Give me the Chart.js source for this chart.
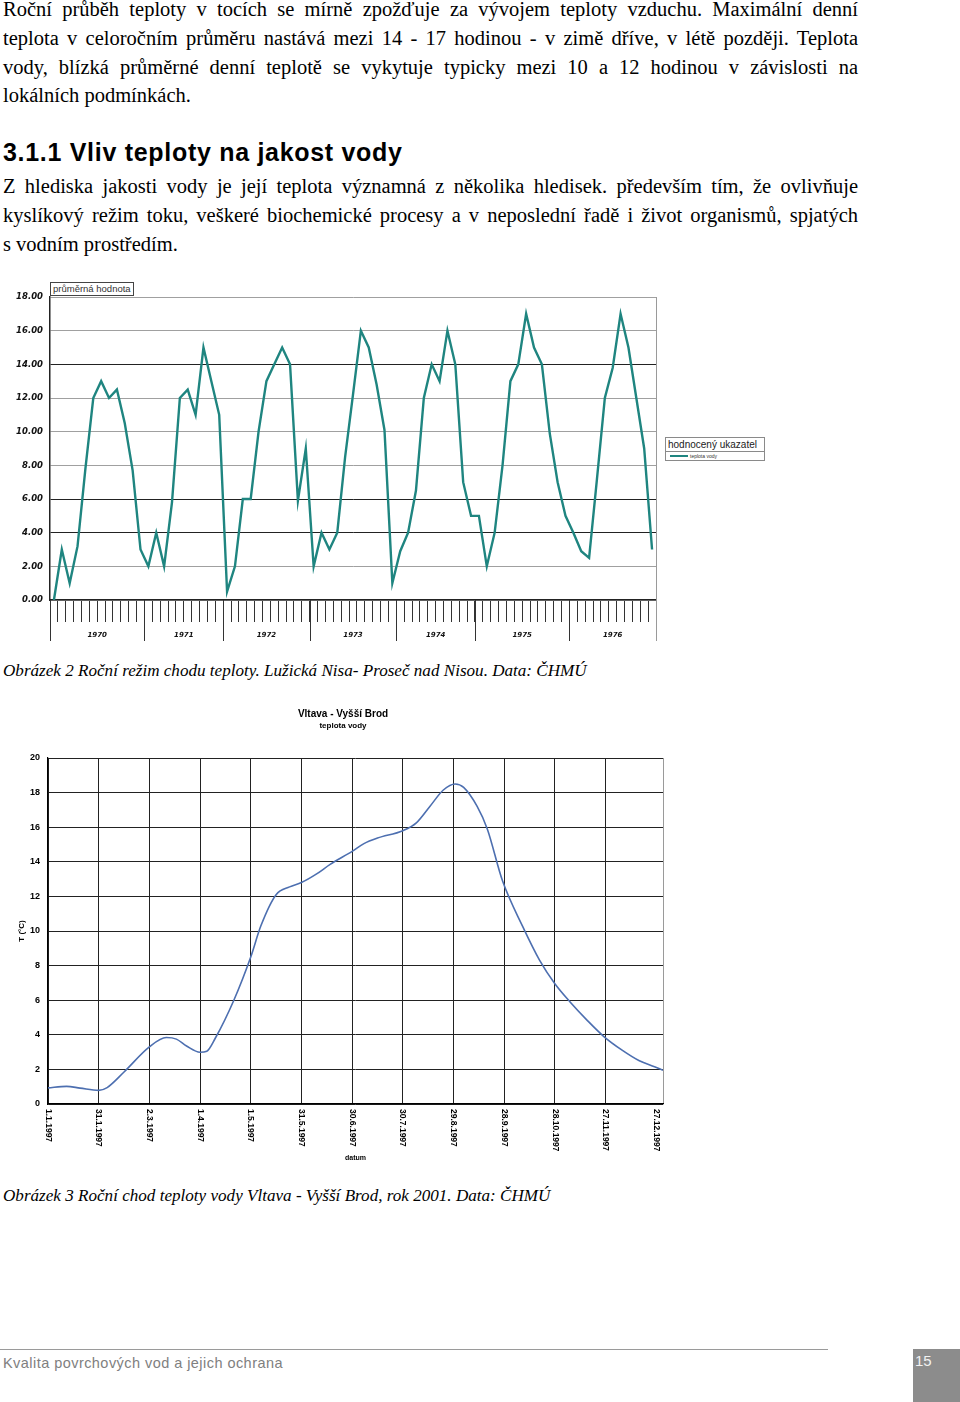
<!DOCTYPE html>
<html lang="cs">
<head>
<meta charset="utf-8">
<title>Teplota vody</title>
<script src="https://cdn.jsdelivr.net/npm/chart.js@4.4.1/dist/chart.umd.min.js"></script>
<style>
    html, body { margin: 0; padding: 0; background: #fff; }
    body { width: 960px; height: 1402px; position: relative; overflow: hidden; font-family: "Liberation Serif", serif; color: #000; }
    .txt { position: absolute; left: 3px; width: 855px; font-size: 20.5px; line-height: 28.8px; }
    .txt div { text-align: justify; text-align-last: justify; white-space: nowrap; }
    .txt div.last { text-align: left; text-align-last: left; }
    h3 { position: absolute; left: 3px; top: 137px; margin: 0; font: bold 25px/30px "Liberation Sans", sans-serif; letter-spacing: 0.7px; }
    .cap { position: absolute; left: 3px; font: italic 17.1px/20px "Liberation Serif", serif; }
    canvas { position: absolute; left: 0; }
    #avgBox { position: absolute; left: 50px; top: 282px; height: 12px; padding: 0 2px; border: 1px solid #444; font: 9.5px/12px "Liberation Sans", sans-serif; color: #333; background: #fff; }
    #legendBox { position: absolute; left: 665px; top: 437px; width: 98px; height: 22px; border: 1px solid #8a8a8a; background: #fff; font-family: "Liberation Sans", sans-serif; }
    #legendBox .head { height: 13px; border-bottom: 1px solid #8a8a8a; font-size: 10px; line-height: 13px; padding-left: 2px; color: #222; }
    #legendBox .row { position: relative; height: 8px; }
    #legSwatch { position: absolute; left: 4px; top: 3px; width: 18px; height: 2px; }
    #legName { position: absolute; left: 24px; top: 0; font-size: 5px; line-height: 8px; color: #333; }
    #footLine { position: absolute; left: 0; top: 1349px; width: 828px; height: 1px; background: #9a9a9a; }
    #footText { position: absolute; left: 3px; top: 1354px; font: 14.5px/18px "Liberation Sans", sans-serif; color: #808080; letter-spacing: 0.45px; }
    #pageNo { position: absolute; left: 913px; top: 1349px; width: 47px; height: 53px; background: #8c8c8c; color: #f2f2f2; font: 15px/18px "Liberation Sans", sans-serif; }
    #pageNo span { position: absolute; left: 2px; top: 3px; }
</style>
</head>
<body>

<div class="txt" style="top:-5px">
    <div>Roční průběh teploty v tocích se mírně zpožďuje za vývojem teploty vzduchu. Maximální denní</div>
    <div>teplota v celoročním průměru nastává mezi 14 - 17 hodinou - v zimě dříve, v létě později. Teplota</div>
    <div>vody, blízká průměrné denní teplotě se vykytuje typicky mezi 10 a 12 hodinou v závislosti na</div>
    <div class="last">lokálních podmínkách.</div>
</div>

<h3>3.1.1 Vliv teploty na jakost vody</h3>

<div class="txt" style="top:172px">
    <div>Z hlediska jakosti vody je její teplota významná z několika hledisek. především tím, že ovlivňuje</div>
    <div>kyslíkový režim toku, veškeré biochemické procesy a v neposlední řadě i život organismů, spjatých</div>
    <div class="last">s vodním prostředím.</div>
</div>

<canvas id="chart-nisa" width="770" height="367" style="top:278px"></canvas>
<div id="avgBox">průměrná hodnota</div>
<div id="legendBox">
    <div class="head">hodnocený ukazatel</div>
    <div class="row"><span id="legSwatch"></span><span id="legName"></span></div>
</div>

<div class="cap" style="top:661px">Obrázek 2 Roční režim chodu teploty. Lužická Nisa- Proseč nad Nisou. Data: ČHMÚ</div>

<canvas id="chart-vltava" width="686" height="465" style="top:700px"></canvas>

<div class="cap" style="top:1186px">Obrázek 3 Roční chod teploty vody Vltava - Vyšší Brod, rok 2001. Data: ČHMÚ</div>

<div id="footLine"></div>
<div id="footText">Kvalita povrchových vod a jejich ochrana</div>
<div id="pageNo"><span>15</span></div>

<script>
// --- Obrázek 2: Lužická Nisa - Proseč nad Nisou (measurements 1970-1976) ---
var years = ['1970', '1971', '1972', '1973', '1974', '1975', '1976'];
var samplesPerYear = [12, 10, 11, 11, 10, 12, 11];
var nisaTemp = [
    0.0, 3.0, 1.0, 3.2, 7.8, 12.0, 13.0, 12.0, 12.5, 10.5, 7.7, 3.0,
    2.0, 4.0, 2.0, 5.8, 12.0, 12.5, 11.0, 15.0, 13.0, 11.0,
    0.5, 2.0, 6.0, 6.0, 10.0, 13.0, 14.0, 15.0, 14.0, 5.9, 9.0,
    2.0, 4.0, 3.0, 4.0, 8.5, 12.2, 16.0, 15.0, 12.8, 10.1, 1.0,
    2.9, 4.0, 6.5, 12.0, 14.0, 13.0, 16.0, 14.0, 7.0, 5.0,
    5.0, 2.0, 4.0, 8.0, 13.0, 14.0, 17.0, 15.0, 14.0, 9.9, 7.0, 5.0,
    4.0, 2.9, 2.5, 7.2, 12.0, 13.8, 17.0, 15.0, 12.0, 9.0, 3.0
];
var darkGridValues = [4, 6, 14];

// --- Obrázek 3: Vltava - Vyšší Brod (day of year -> temperature) ---
var vltavaDays = [0, 11, 19, 30, 35, 45, 60, 70, 76, 82, 90, 94, 99, 110, 120, 126, 135, 143, 150, 159,
    167, 180, 187, 195, 210, 218, 226, 234, 241, 246, 254, 260, 269, 281, 291, 300, 309, 319, 329, 340, 350, 359, 364];
var vltavaTemp = [0.93, 1.02, 0.92, 0.79, 0.95, 1.85, 3.3, 3.84, 3.75, 3.35, 2.99, 3.05, 3.8, 6.0, 8.5, 10.3, 12.1, 12.55, 12.8, 13.3,
    13.85, 14.6, 15.05, 15.37, 15.8, 16.25, 17.2, 18.15, 18.5, 18.3, 17.2, 15.9, 12.9, 10.25, 8.3, 6.95, 5.9, 4.85, 3.9, 3.1, 2.5, 2.15, 1.95];
var tickDays = [0, 30, 60, 90, 120, 150, 180, 210, 240, 270, 300, 330, 360];
var dateLabels = ['1.1.1997', '31.1.1997', '2.3.1997', '1.4.1997', '1.5.1997', '31.5.1997', '30.6.1997',
    '30.7.1997', '29.8.1997', '28.9.1997', '28.10.1997', '27.11.1997', '27.12.1997'];

(function() {
    'use strict';
    Chart.defaults.font.family = '"Liberation Sans", Arial, sans-serif';
    Chart.defaults.color = '#000';

    var nisaColor = '#1f8580';
    var vltavaColor = '#4d6fb0';

    // one category per measurement, grouped by year
    var categories = [];
    years.forEach(function(y, i) {
        for (var k = 1; k <= samplesPerYear[i]; k++) categories.push(y + '/' + k);
    });

    // year labels and separators under the month ticks
    var yearAxisPlugin = {
        id: 'yearAxis',
        afterDraw: function(chart) {
            var ctx = chart.ctx, xs = chart.scales.x, area = chart.chartArea;
            var half = (xs.getPixelForValue(1) - xs.getPixelForValue(0)) / 2;
            var start = 0;
            ctx.save();
            ctx.strokeStyle = '#9a9a9a';
            ctx.lineWidth = 1;
            ctx.beginPath();
            ctx.moveTo(Math.round(area.right) + 0.5, area.top);
            ctx.lineTo(Math.round(area.right) + 0.5, area.bottom + 41);
            ctx.stroke();

            ctx.strokeStyle = '#333';
            ctx.fillStyle = '#111';
            ctx.font = 'italic bold 7px "DejaVu Sans"';
            ctx.textAlign = 'center';
            ctx.textBaseline = 'middle';
            years.forEach(function(y, i) {
                var left = xs.getPixelForValue(start) - half;
                var right = xs.getPixelForValue(start + samplesPerYear[i] - 1) + half;
                var lx = Math.round(left) + 0.5;
                ctx.beginPath();
                ctx.moveTo(lx, area.bottom);
                ctx.lineTo(lx, area.bottom + 41);
                ctx.stroke();
                ctx.fillText(y, (left + right) / 2, area.bottom + 35);
                start += samplesPerYear[i];
            });
            ctx.restore();
        }
    };

    var nisaChart = new Chart(document.getElementById('chart-nisa'), {
        type: 'line',
        data: {
            labels: categories,
            datasets: [{
                label: 'teplota vody',
                data: nisaTemp,
                borderColor: nisaColor,
                borderWidth: 2.4,
                pointRadius: 0,
                tension: 0,
                fill: false
            }]
        },
        options: {
            responsive: false,
            animation: false,
            layout: { padding: { top: 19, right: 114, left: 0, bottom: 0 } },
            plugins: { legend: { display: false }, tooltip: { enabled: false } },
            scales: {
                x: {
                    type: 'category',
                    offset: true,
                    afterFit: function(scale) { scale.height = 45; },
                    grid: { drawOnChartArea: false, drawTicks: true, tickLength: 22, color: '#333', offset: true },
                    border: { color: '#222', width: 1.5 },
                    ticks: { display: false, autoSkip: false }
                },
                y: {
                    min: 0,
                    max: 18,
                    afterFit: function(scale) { scale.width = 50; },
                    grid: {
                        drawTicks: false,
                        color: function(c) { return darkGridValues.indexOf(c.tick.value) >= 0 ? '#222' : '#a0a0a0'; }
                    },
                    border: { color: '#222', width: 1.5 },
                    ticks: {
                        stepSize: 2,
                        padding: 7,
                        color: '#111',
                        font: { family: '"DejaVu Sans"', size: 8.5, weight: 'bold', style: 'italic' },
                        callback: function(v) { return v.toFixed(2); }
                    }
                }
            }
        },
        plugins: [yearAxisPlugin]
    });

    document.getElementById('legSwatch').style.background = nisaColor;
    document.getElementById('legName').textContent = nisaChart.data.datasets[0].label;

    // date labels rotated clockwise, reading downwards from the axis
    var dateLabelPlugin = {
        id: 'dateLabels',
        afterDraw: function(chart) {
            var ctx = chart.ctx, xs = chart.scales.x;
            ctx.save();
            ctx.fillStyle = '#000';
            ctx.font = 'bold 8.5px "Liberation Sans"';
            ctx.textAlign = 'left';
            ctx.textBaseline = 'middle';
            tickDays.forEach(function(d, i) {
                ctx.save();
                ctx.translate(xs.getPixelForValue(d), xs.top + 5);
                ctx.rotate(Math.PI / 2);
                ctx.fillText(dateLabels[i], 0, 0);
                ctx.restore();
            });
            ctx.restore();
        }
    };

    new Chart(document.getElementById('chart-vltava'), {
        type: 'line',
        data: {
            datasets: [{
                label: 'teplota vody',
                data: vltavaDays.map(function(d, i) { return { x: d, y: vltavaTemp[i] }; }),
                borderColor: vltavaColor,
                borderWidth: 1.6,
                pointRadius: 0,
                cubicInterpolationMode: 'monotone',
                fill: false
            }]
        },
        options: {
            responsive: false,
            animation: false,
            layout: { padding: 0 },
            plugins: {
                legend: { display: false },
                tooltip: { enabled: false },
                title: {
                    display: true,
                    text: 'Vltava - Vyšší Brod',
                    font: { size: 10, weight: 'bold' },
                    color: '#000',
                    padding: { top: 8, bottom: 0 }
                },
                subtitle: {
                    display: true,
                    text: 'teplota vody',
                    font: { size: 8, weight: 'bold' },
                    color: '#000',
                    padding: { top: 1, bottom: 27.4 }
                }
            },
            scales: {
                x: {
                    type: 'linear',
                    min: 0,
                    max: 364,
                    afterFit: function(scale) { scale.height = 61; },
                    grid: {
                        drawTicks: false,
                        color: function(c) { return c.tick.value === 364 ? '#9a9a9a' : '#222'; }
                    },
                    border: { color: '#000', width: 1.2 },
                    ticks: { display: false, stepSize: 30 },
                    title: { display: true, text: 'datum', font: { size: 7, weight: 'bold' }, padding: { top: 0, bottom: 3 } }
                },
                y: {
                    min: 0,
                    max: 20,
                    afterFit: function(scale) { scale.width = 48; },
                    grid: { drawTicks: false, color: '#222' },
                    border: { color: '#000', width: 1.2 },
                    ticks: { stepSize: 2, padding: 8, font: { size: 9, weight: 'bold' } },
                    title: { display: true, text: 'T (°C)', font: { size: 8, weight: 'bold' }, padding: { top: 17, bottom: 0 } }
                },
                // empty right-hand axis keeps the plot edge at the reference position
                yRight: {
                    position: 'right',
                    min: 0,
                    max: 20,
                    afterFit: function(scale) { scale.width = 23; },
                    grid: { display: false },
                    border: { display: false },
                    ticks: { display: false }
                }
            }
        },
        plugins: [dateLabelPlugin]
    });
})();
</script>
</body>
</html>
